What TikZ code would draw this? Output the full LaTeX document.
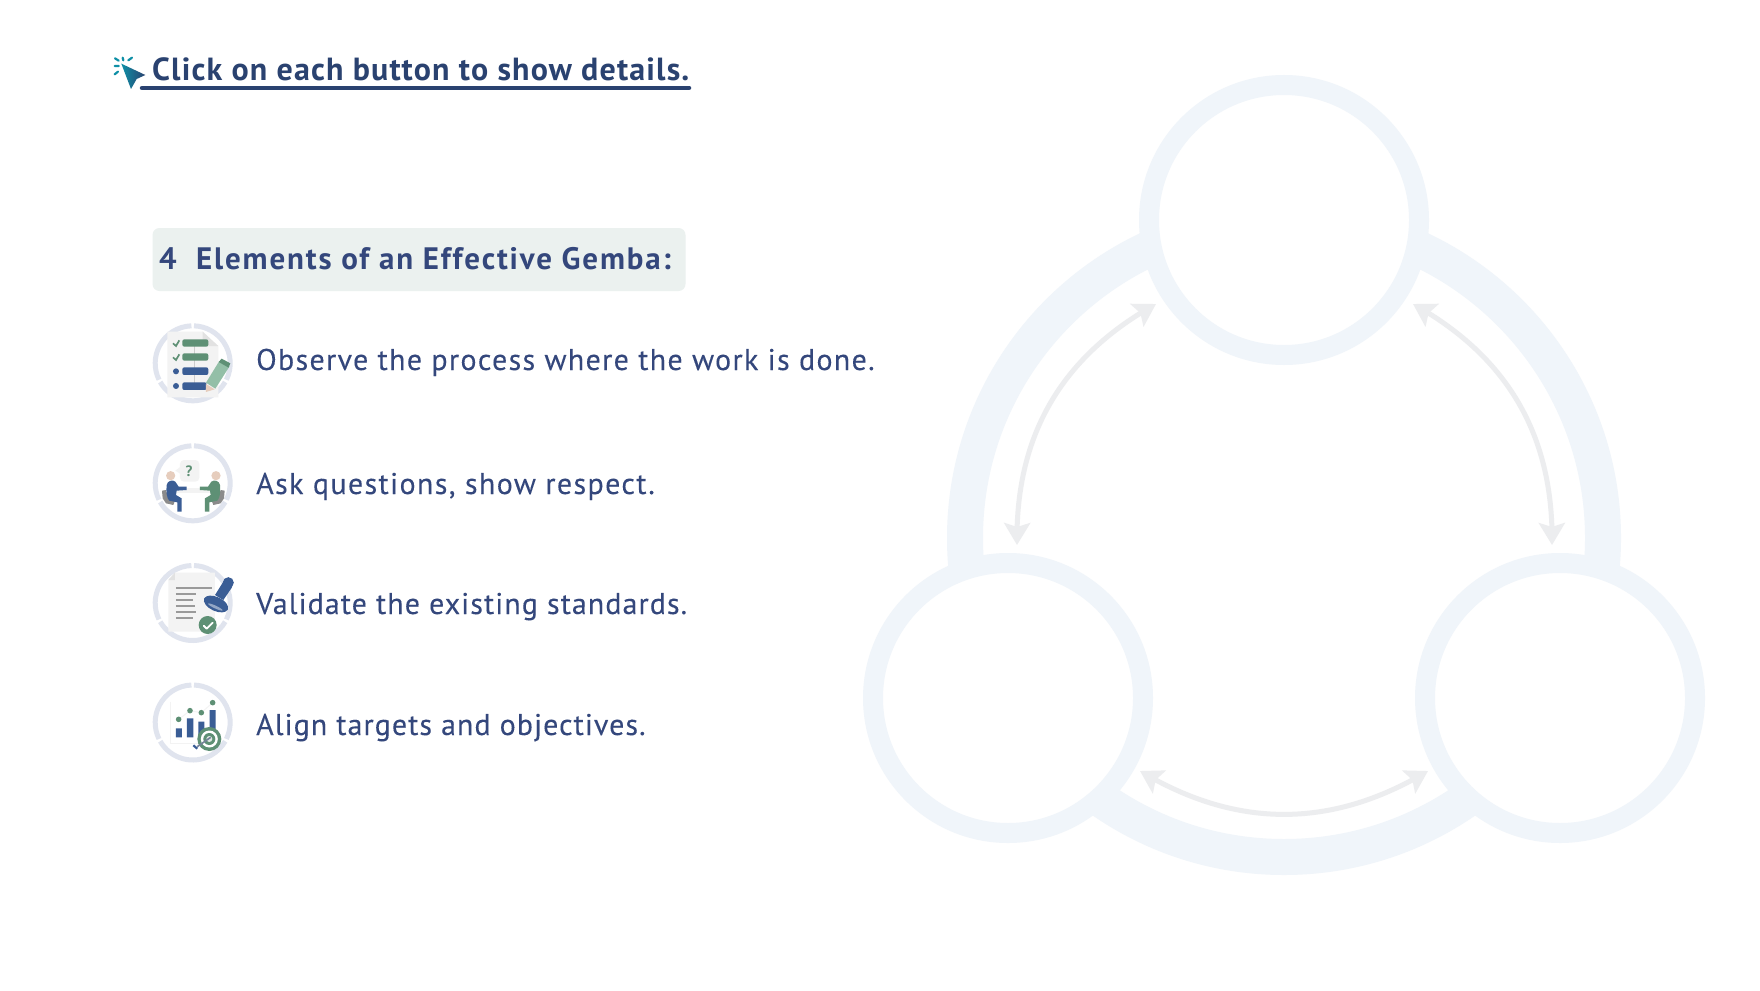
\documentclass[tikz,border=0pt]{standalone}
\usepackage{fontspec}
\setmainfont{PT Sans}
\usetikzlibrary{arrows.meta,bending,shapes.geometric}
\definecolor{ringc}{HTML}{F0F5FA}
\definecolor{arrc}{HTML}{ECEDEF}
\definecolor{navy}{HTML}{2A4270}
\definecolor{txt}{HTML}{34477C}
\definecolor{btn}{HTML}{EBF1EF}
\definecolor{seg}{HTML}{E0E4EE}
\definecolor{gr}{HTML}{5E9075}
\definecolor{grl}{HTML}{93BFA7}
\definecolor{bl}{HTML}{3A5D95}
\definecolor{pg}{HTML}{F3F3F3}
\definecolor{pgd}{HTML}{E2E2E2}
\definecolor{gy}{HTML}{9A9A9A}
\definecolor{skin}{HTML}{E6CDBD}
\definecolor{curs}{HTML}{0E8FA6}
\tikzset{
  bigc/.style={circle,draw=ringc,fill=white,line width=20pt,minimum size=270pt,inner sep=0pt,outer sep=0pt},
  dbl/.style={draw=arrc,line width=5pt,{Stealth[length=22pt,width=26pt,inset=4pt,flex]}-{Stealth[length=22pt,width=26pt,inset=4pt,flex]}},
  item/.style={anchor=base west,inner sep=0pt,text=txt},
  segc/.style={draw=seg,line width=5pt},
  iconsc/.style={x=.3333pt,y=-.3333pt}
}
\newcommand{\itemfont}[1]{\fontsize{30}{33}\selectfont\addfontfeature{LetterSpace=#1,FakeBold=0.12}}
\newcommand{\icring}[2]{%
  \begin{scope}[shift={(#1,#2)}]
  \draw[segc] (92:37.5pt) arc[start angle=92,end angle=206,radius=37.5pt];
  \draw[segc] (210:37.5pt) arc[start angle=210,end angle=330,radius=37.5pt];
  \draw[segc] (334:37.5pt) arc[start angle=334,end angle=448,radius=37.5pt];
  \end{scope}}
\newcommand{\sitter}[1]{%
  \fill[gy!90!black] (66,182) -- (78,180) -- (85,205) -- (105,212) -- (100,225) -- (78,220) -- (68,205) -- cycle;
  \fill[skin] (92,137) circle[radius=4.6pt];
  \fill[#1] (80,165) .. controls (82,152) and (98,148) .. (106,155) -- (116,170) -- (140,170) -- (140,180) -- (110,182) -- (108,195) -- (125,205) -- (125,245) -- (112,245) -- (112,217) -- (88,212) .. controls (80,205) and (78,185) .. (80,165) -- cycle;}
\begin{document}
\begin{tikzpicture}[x=1pt,y=-1pt]
\useasboundingbox[fill=white] (0,0) rectangle (1760,990);

% big ring and circles
\node[circle,draw=ringc,line width=36pt,minimum size=638pt,inner sep=0pt,outer sep=0pt] (ring) at (1284,538) {};
\node[bigc] (top) at (1284,220) {};
\node[bigc] (left) at (1008,698) {};
\node[bigc] (right) at (1560,698) {};

% double arrows
\coordinate (a1) at (1156,304);
\coordinate (a2) at (1017,545);
\coordinate (b1) at (1413,304);
\coordinate (b2) at (1552,545);
\coordinate (c1) at (1140,771);
\coordinate (c2) at (1428,771);
\draw[dbl] (a1) to[bend right=31] (a2);
\draw[dbl] (b1) to[bend left=31] (b2);
\draw[dbl] (c1) to[bend right=31] (c2);

% title
\node[anchor=base west,inner sep=0pt,text=navy,font=\fontsize{32}{36}\selectfont\bfseries\addfontfeature{LetterSpace=3.65}] (title) at (152,80) {Click on each button to show details.};
\coordinate (u1) at (142,88);
\coordinate (u2) at (689,88);
\draw[navy,line width=4.5pt,line cap=round] (u1) -- (u2);

% cursor
\begin{scope}[shift={(100,45)},iconsc]
  \path[left color=curs,right color=navy,draw=none]
    (64,56) -- (136,90) -- (110,102) -- (93,132) -- cycle;
  \draw[draw=curs,line width=2.2pt,line cap=round]
    (68,38) -- (70,46) (96,38) -- (85,46) (45,40) -- (56,47) (44,63) -- (56,63) (44,88) -- (54,80);
\end{scope}

% heading button
\node[anchor=north west,fill=btn,rounded corners=7pt,minimum width=533pt,minimum height=63pt,inner sep=0pt,outer sep=0pt] (btnbox) at (152.5,228) {};
\node[anchor=base west,inner sep=0pt,text=txt,font=\fontsize{31}{34}\selectfont\bfseries\addfontfeature{LetterSpace=5.95}] (head) at (159,269) {4\ \ Elements of an Effective Gemba:};

% items
\node[item,font=\itemfont{4.4}] (t1) at (256,370) {Observe the process where the work is done.};
\node[item,font=\itemfont{4.6}] (t2) at (256,494) {Ask questions, show respect.};
\node[item,font=\itemfont{3.55}] (t3) at (256,614) {Validate the existing standards.};
\node[item,font=\itemfont{3.5}] (t4) at (256,735) {Align targets and objectives.};

% icon 1
\icring{192.7}{363.3}
\begin{scope}[shift={(140,310)},iconsc]
  \fill[pg] (82,65) -- (188,65) -- (235,110) -- (235,262) -- (82,262) -- cycle;
  \fill[pgd] (188,65) -- (235,108) -- (188,108) -- cycle;
  \draw[gy!50!white,line width=1pt] (165,105) -- (165,220);
  \fill[gr,rounded corners=2pt] (127,88) rectangle (205,110);
  \fill[gr,rounded corners=2pt] (127,130) rectangle (205,152);
  \fill[bl,rounded corners=2pt] (127,172) rectangle (205,195);
  \fill[bl,rounded corners=2pt] (127,217) rectangle (200,240);
  \draw[gr,line width=1.7pt] (99,100) -- (108,108) -- (118,91);
  \draw[gr,line width=1.7pt] (99,142) -- (108,150) -- (118,133);
  \fill[bl] (108,184) circle[radius=3pt] (108,228) circle[radius=3pt];
  \fill[skin] (198,222) -- (224,238) -- (198,246) -- cycle;
  \fill[grl] (198,218) -- (238,153) -- (268,170) -- (226,236) -- cycle;
  \fill[gr] (236,156) -- (245,146) -- (271,160) -- (266,173) -- cycle;
\end{scope}

% icon 2
\icring{192.7}{483.3}
\begin{scope}[shift={(140,430)},iconsc]
  \fill[pg,rounded corners=4pt] (120,90) rectangle (178,155);
  \fill[pg] (122,110) -- (106,122) -- (122,132) -- cycle;
  \node[text=gr,inner sep=0pt,font=\fontsize{15}{15}\selectfont\bfseries] (q) at (147,124) {?};
  \fill[pg] (105,175) rectangle (215,188);
  \sitter{bl}
  \begin{scope}[x=-.3333pt,shift={(-320,0)}]
    \sitter{gr}
  \end{scope}
\end{scope}

% icon 3
\icring{192.7}{603}
\begin{scope}[shift={(140,550)},iconsc]
  \fill[pg] (105,68) -- (225,68) -- (225,245) -- (85,245) -- (85,90) -- cycle;
  \fill[pgd] (105,68) -- (105,90) -- (85,90) -- cycle;
  \draw[gy,line width=2.2pt]
    (108,113) -- (215,113) (108,132) -- (168,132) (108,150) -- (160,150)
    (108,168) -- (165,168) (108,186) -- (168,186) (108,204) -- (160,204);
  \fill[bl] (265,98) circle[radius=5.5pt];
  \fill[bl] (252,92) -- (276,112) -- (250,150) -- (225,135) -- cycle;
  \fill[bl] (228,162) ellipse[x radius=13pt,y radius=7pt,rotate=-25];
  \fill[bl!55!white] (226,171) ellipse[x radius=8pt,y radius=1.4pt,rotate=-25];
  \fill[gr] (203,225) circle[radius=9pt];
  \draw[white,line width=1.8pt,line cap=round,line join=round] (191,227) -- (200,236) -- (218,218);
\end{scope}

% icon 4
\icring{192.7}{722.5}
\begin{scope}[shift={(140,670)},iconsc]
  \draw[pg,line width=1.2pt] (92,95) -- (92,220) -- (215,220);
  \draw[pg,line width=1pt] (116,148) -- (150,122) -- (184,128) -- (218,98);
  \fill[bl] (108,175) rectangle (126,202) (141,145) rectangle (160,202) (175,155) rectangle (193,202) (209,120) rectangle (227,202);
  \fill[gr] (116,148) circle[radius=2.8pt] (150,122) circle[radius=2.8pt] (184,128) circle[radius=2.8pt] (218,98) circle[radius=2.8pt];
  \fill[gr] (208,207) circle[radius=12pt];
  \fill[white] (208,207) circle[radius=8.5pt];
  \fill[gr] (208,207) circle[radius=6pt];
  \fill[white!80!gr] (208,207) circle[radius=3pt];
  \draw[gy!60!bl,line width=1.6pt] (212,202) -- (172,230);
  \draw[bl,line width=2.2pt] (160,226) -- (172,236);
\end{scope}
\end{tikzpicture}
\end{document}
